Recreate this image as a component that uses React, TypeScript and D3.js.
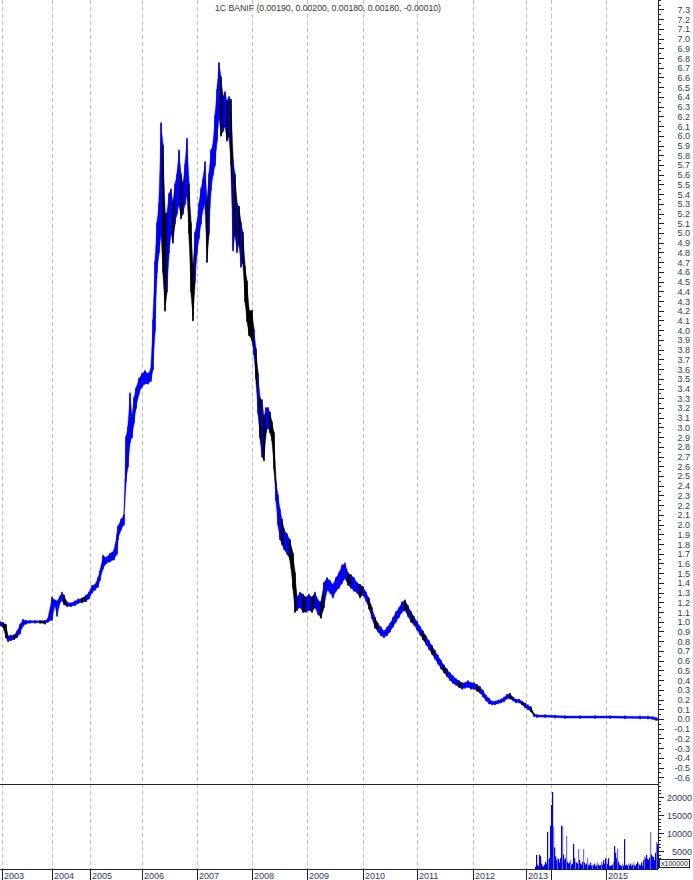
import React from "react";
import * as d3 from "d3";

const W = 693;
const H = 880;

const yearLabels = ["2003", "2004", "2005", "2006", "2007", "2008", "2009", "2010", "2011", "2012", "2013", "", "2015"];
const yearStart = [2, 52, 90, 142, 197, 252, 307, 363, 417, 473, 526, 551, 606];

const titleText = "1C BANIF (0.00190, 0.00200, 0.00180, 0.00180, -0.00010)";

// trading-period index, high, low, down flag (1 = black down bar)
const barIdx = [0, 3, 6, 8, 11, 14, 17, 20, 23, 26, 30, 35, 40, 45, 48,
  52, 55, 57, 60, 62, 64, 67, 71, 75, 78, 82, 86, 89,
  92, 95, 98, 100, 103, 106, 110, 114, 117, 118, 121, 124, 126, 128, 130, 132, 134, 136, 139,
  142, 145, 148, 151, 153,
  155, 157, 159, 161, 163, 165, 167, 169, 171, 173, 175, 177, 179, 181, 183, 185, 187, 189, 191, 193, 195,
  197, 199, 201, 203, 205, 207, 209, 211, 213, 215, 217, 219, 221, 223, 225, 227, 229, 231, 233, 235, 237, 239, 241, 243, 245, 247, 249,
  252, 254, 256, 258, 260, 262, 264, 266, 268, 270, 272, 274, 276, 278, 280, 282, 284, 287, 290, 293, 295, 297, 300, 303, 306,
  309, 312, 315, 318, 321, 324, 327, 330, 333, 336, 339, 342, 345, 348, 351, 354, 357, 360,
  363, 366, 369, 372, 375, 378, 381, 384, 387, 390, 393, 396, 399, 402, 405, 408, 411, 414,
  417, 420, 423, 426, 429, 432, 435, 438, 441, 444, 447, 450, 453, 456, 459, 462, 465, 468, 471,
  474, 477, 480, 483, 486, 489, 492, 495, 498, 501, 504, 507, 510, 513, 516, 519, 522,
  525, 528, 531, 534, 537, 545, 555, 565, 580, 595, 610, 625, 640, 648, 653, 656, 658];
const barHigh = [1.0, 0.99, 0.97, 0.85, 0.86, 0.86, 0.9, 0.97, 1.02, 1.01, 1.01, 1.01, 1.01, 1.01, 1.03,
  1.25, 1.22, 1.21, 1.26, 1.3, 1.27, 1.2, 1.19, 1.21, 1.23, 1.24, 1.27, 1.3,
  1.37, 1.38, 1.45, 1.52, 1.68, 1.66, 1.7, 1.73, 1.9, 1.98, 2.05, 2.1, 2.9, 3.0, 3.35, 3.1, 3.3, 3.4, 3.5,
  3.55, 3.58, 3.55, 3.6, 4.1,
  4.7, 5.1, 5.3, 6.13, 5.9, 5.2, 5.2, 5.4, 5.45, 5.3, 5.5, 5.6, 5.85, 5.6, 5.5, 5.7, 5.97, 5.5, 5.1, 4.6, 5.0,
  5.1, 5.3, 5.45, 5.55, 5.73, 5.3, 5.6, 5.85, 5.9, 6.2, 6.47, 6.75, 6.6, 6.4, 6.45, 6.35, 6.4, 6.37, 5.75, 5.6, 5.3, 5.27, 5.1, 5.0, 4.65, 4.5, 4.2,
  4.2, 4.0, 3.8, 3.55, 3.3, 3.28, 3.1, 3.2, 3.2, 3.15, 3.05, 2.94, 2.44, 2.3, 2.15, 2.05, 1.95, 1.9, 1.84, 1.7, 1.5, 1.25, 1.3, 1.28, 1.25,
  1.28, 1.25, 1.3, 1.22, 1.2, 1.4, 1.45, 1.42, 1.38, 1.45, 1.5, 1.58, 1.6, 1.5, 1.48, 1.45, 1.4, 1.38,
  1.36, 1.3, 1.24, 1.14, 1.04, 0.98, 0.94, 0.9, 0.94, 0.98, 1.04, 1.1, 1.14, 1.2, 1.22, 1.16, 1.1, 1.05,
  1.0, 0.95, 0.9, 0.85, 0.8, 0.75, 0.7, 0.65, 0.6, 0.55, 0.51, 0.47, 0.44, 0.41, 0.39, 0.37, 0.37, 0.39, 0.37,
  0.37, 0.35, 0.33, 0.29, 0.24, 0.21, 0.18, 0.18, 0.19, 0.2, 0.22, 0.25, 0.26, 0.22, 0.2, 0.2, 0.18,
  0.16, 0.14, 0.12, 0.05, 0.04, 0.04, 0.035, 0.03, 0.03, 0.03, 0.03, 0.028, 0.026, 0.025, 0.02, 0.01, 0.005];
const barLow = [0.96, 0.95, 0.84, 0.8, 0.81, 0.82, 0.84, 0.88, 0.96, 0.98, 0.99, 0.99, 0.99, 0.98, 1.0,
  1.02, 1.18, 1.06, 1.2, 1.22, 1.18, 1.16, 1.16, 1.17, 1.19, 1.2, 1.21, 1.24,
  1.3, 1.33, 1.36, 1.43, 1.55, 1.6, 1.62, 1.64, 1.7, 1.85, 1.95, 2.0, 2.45, 2.6, 2.85, 2.9, 3.05, 3.2, 3.35,
  3.42, 3.45, 3.45, 3.48, 3.6,
  4.0, 4.6, 4.8, 5.0, 4.6, 4.2, 4.4, 4.8, 5.0, 4.9, 5.1, 5.2, 5.3, 5.15, 5.2, 5.3, 5.4, 5.0, 4.4, 4.1, 4.5,
  4.8, 4.95, 5.1, 5.25, 5.3, 4.7, 5.0, 5.45, 5.6, 5.7, 5.95, 6.2, 6.0, 6.05, 6.1, 5.95, 6.0, 5.7, 4.82, 5.0, 4.8, 4.9, 4.65, 4.7, 4.3, 4.1, 3.95,
  3.9, 3.75, 3.5, 3.15, 2.9, 2.7, 2.66, 2.95, 3.0, 2.95, 2.87, 2.58, 2.25, 2.0, 1.85, 1.8, 1.75, 1.7, 1.64, 1.35, 1.1, 1.12, 1.15, 1.1, 1.1,
  1.12, 1.1, 1.15, 1.08, 1.04, 1.15, 1.33, 1.3, 1.25, 1.32, 1.35, 1.4, 1.45, 1.38, 1.35, 1.32, 1.3, 1.25,
  1.28, 1.22, 1.14, 1.04, 0.94, 0.9, 0.86, 0.84, 0.86, 0.9, 0.95, 1.0, 1.05, 1.1, 1.12, 1.06, 1.0, 0.97,
  0.92, 0.87, 0.82, 0.77, 0.72, 0.67, 0.62, 0.57, 0.52, 0.48, 0.44, 0.4, 0.37, 0.35, 0.33, 0.31, 0.32, 0.33, 0.31,
  0.31, 0.29, 0.27, 0.23, 0.19, 0.16, 0.15, 0.15, 0.16, 0.17, 0.18, 0.21, 0.21, 0.19, 0.17, 0.17, 0.15,
  0.12, 0.1, 0.08, 0.03, 0.03, 0.025, 0.03, 0.025, 0.025, 0.025, 0.025, 0.02, 0.02, 0.015, 0.01, 0.0, 0.0];
const barDown = [0, 1, 1, 0, 0, 1, 0, 0, 0, 0, 0, 0, 1, 0, 0,
  0, 0, 0, 0, 0, 1, 0, 0, 0, 0, 1, 0, 0,
  0, 0, 0, 0, 0, 0, 0, 0, 0, 0, 0, 0, 0, 0, 0, 0, 0, 0, 0,
  0, 0, 0, 0, 0,
  0, 0, 0, 0, 1, 1, 0, 0, 0, 1, 0, 0, 0, 1, 0, 0, 0, 1, 1, 1, 0,
  0, 0, 0, 0, 0, 1, 0, 0, 0, 0, 0, 0, 1, 0, 0, 1, 0, 1, 0, 1, 0, 1, 0, 1, 1, 1, 1,
  1, 0, 1, 0, 1, 0, 1, 0, 0, 1, 1, 1, 0, 0, 0, 1, 0, 0, 1, 1, 1, 0, 0, 1, 0,
  0, 1, 0, 0, 1, 0, 0, 0, 0, 0, 0, 0, 0, 1, 0, 0, 0, 1,
  0, 0, 1, 0, 1, 0, 0, 0, 0, 0, 0, 0, 0, 0, 1, 0, 1, 0,
  0, 0, 1, 0, 0, 1, 0, 0, 0, 1, 0, 0, 0, 0, 1, 0, 0, 0, 0,
  0, 1, 0, 0, 0, 0, 0, 0, 0, 0, 0, 0, 1, 0, 0, 0, 1,
  0, 0, 1, 0, 0, 0, 0, 0, 0, 0, 0, 0, 0, 0, 0, 0, 0];

// volume (units of the x100000 scale label), one per period from volStart
const volStart = 535;
const volume = [600, 3900, 1200, 800, 4000, 3500, 1500, 900, 700, 1200, 2000, 1500, 10300, 2500, 3000, 12000, 17800, 21400, 11700, 6000,
  3500, 2500, 3000, 2800, 1800, 3000, 12000, 11800, 4000, 2500, 3000, 9200, 2000, 1500, 1800, 2500, 1200, 1500, 7000, 3000,
  2000, 1800, 1500, 5500, 2500, 1500, 1200, 2000, 5500, 1800, 1200, 1500, 3000, 1000, 1200, 1800, 900, 1200, 1000, 1500,
  800, 1000, 1800, 1200, 900, 1100, 2000, 1200, 2500, 1500, 3000, 2800, 1500, 3000, 900, 800, 1000, 1200, 2000, 6400,
  4500, 3000, 5700, 2000, 1200, 1000, 800, 1500, 900, 8300, 1000, 1200, 900, 1500, 1000, 1500, 800, 1200, 1800, 1000,
  900, 1400, 2000, 1500, 1200, 1000, 1800, 900, 2500, 3500, 3000, 3900, 2800, 2500, 3200, 10300, 4000, 3500, 3300, 2500,
  4500, 7500, 7000];
const volLight = [548, 553, 557, 562, 566, 570, 575, 578, 583, 587, 592, 597, 601, 606, 613, 617, 622, 628, 633, 638, 644, 650, 656];

const priceTicks = d3.range(-6, 74).map((d) => d / 10);
const priceMinor = d3.range(-13, 149).map((d) => d / 20);
const volTicks = [5000, 10000, 15000, 20000];
const volMinor = d3.range(1000, 24000, 1000);

const PLOT_R = 658;
const DIV_Y = 784;
const BOT_Y = 869;
const FONT = "'Liberation Sans', Arial, sans-serif";
const LABEL_COLOR = "#2d3a66";

export default function App() {
  const x = d3.scaleLinear().domain([0, 658]).range([0, PLOT_R]);
  const y = d3.scaleLinear().domain([-0.669, 7.397]).range([DIV_Y, 0]);
  const yv = d3.scaleLinear().domain([0, 20000]).range([BOT_Y, 797]);

  const pts = barIdx.map((idx, i) => {
    const hi = y(barHigh[i]);
    const lo = Math.max(y(barLow[i]), hi + 2);
    return { x: x(idx), hi, lo };
  });
  const area = d3
    .area<{ x: number; hi: number; lo: number }>()
    .x((d) => d.x)
    .y0((d) => d.lo)
    .y1((d) => d.hi);

  const segs = pts.slice(0, -1).map((p, i) => {
    const q = pts[i + 1];
    return {
      d: area([{ ...p, x: p.x - 0.3 }, { ...q, x: q.x + 0.3 }]) || "",
      down: barDown[i] === 1,
    };
  });

  const ticks = pts.map((p, i) => ({ x: p.x, hi: p.hi - 0.8, lo: p.lo + 0.8, down: barDown[i] === 1 }));

  const vols = volume.map((v, i) => {
    const idx = volStart + i;
    return { x: x(idx), y: yv(v), h: BOT_Y - yv(v), light: volLight.includes(idx) };
  });

  return (
    <svg width={W} height={H} style={{ display: "block", position: "absolute", left: 0, top: 0, background: "#fff" }}>
      <rect x={0} y={0} width={W} height={H} fill="#fff" />
      {yearStart.map((ys, i) => (
        <line key={"g" + i} x1={x(ys) + 0.5} x2={x(ys) + 0.5} y1={0} y2={BOT_Y} stroke="#bdbdbd" strokeWidth={1} strokeDasharray="4,3" />
      ))}
      <text x={215} y={11} fontFamily={FONT} fontSize={8.8} fill="#333" textLength={226} lengthAdjust="spacingAndGlyphs">{titleText}</text>
      <g>
        {segs.filter((s) => !s.down).map((s, i) => (
          <path key={"u" + i} d={s.d} fill="#0000ff" stroke="#0000ff" strokeWidth={0.4} />
        ))}
        {segs.filter((s) => s.down).map((s, i) => (
          <path key={"k" + i} d={s.d} fill="#000" stroke="#000" strokeWidth={0.4} />
        ))}
        {ticks.slice(0, -1).map((t, i) => (
          <rect key={"t" + i} x={t.x - 0.6} y={t.hi} width={1.2} height={t.lo - t.hi} fill={t.down ? "#000" : "#0000ff"} />
        ))}
      </g>
      <g>
        {vols.map((v, i) => (
          <rect key={"v" + i} x={v.x} y={v.y} width={1.2} height={v.h} fill={v.light ? "#7070ff" : "#0000ff"} />
        ))}
      </g>
      <line x1={0} x2={PLOT_R} y1={DIV_Y + 0.5} y2={DIV_Y + 0.5} stroke="#222" strokeWidth={1} />
      <line x1={0} x2={PLOT_R} y1={BOT_Y + 0.5} y2={BOT_Y + 0.5} stroke="#222" strokeWidth={1} />
      <line x1={PLOT_R + 0.5} x2={PLOT_R + 0.5} y1={0} y2={BOT_Y} stroke="#222" strokeWidth={1} />
      {priceMinor.map((v, i) => (
        <line key={"pm" + i} x1={PLOT_R} x2={PLOT_R + 3} y1={Math.round(y(v)) + 0.5} y2={Math.round(y(v)) + 0.5} stroke="#222" />
      ))}
      {priceTicks.map((v, i) => (
        <g key={"pt" + i}>
          <line x1={PLOT_R} x2={PLOT_R + 6} y1={Math.round(y(v)) + 0.5} y2={Math.round(y(v)) + 0.5} stroke="#222" />
          <text x={690} y={y(v) + 3.5} textAnchor="end" fontFamily={FONT} fontSize={9} fill={LABEL_COLOR}>
            {v.toFixed(1)}
          </text>
        </g>
      ))}
      {volMinor.map((v, i) => (
        <line key={"vm" + i} x1={PLOT_R} x2={PLOT_R + 3} y1={Math.round(yv(v)) + 0.5} y2={Math.round(yv(v)) + 0.5} stroke="#222" />
      ))}
      {volTicks.map((v, i) => (
        <g key={"vt" + i}>
          <line x1={PLOT_R} x2={PLOT_R + 6} y1={Math.round(yv(v)) + 0.5} y2={Math.round(yv(v)) + 0.5} stroke="#222" />
          <text x={692} y={yv(v) + 3.5} textAnchor="end" fontFamily={FONT} fontSize={9} fill={LABEL_COLOR}>
            {v}
          </text>
        </g>
      ))}
      <rect x={659.5} y={859.5} width={30} height={8} fill="#fff" stroke="#222" strokeWidth={1} />
      <text x={661} y={866} fontFamily={FONT} fontSize={7} fill="#222">x100000</text>
      {yearStart.map((ys, i) => (
        <g key={"yl" + i}>
          <line x1={x(ys) + 0.5} x2={x(ys) + 0.5} y1={BOT_Y} y2={H} stroke="#222" strokeWidth={1} />
          {yearLabels[i] && (
            <text x={x(ys) + 2} y={879} fontFamily={FONT} fontSize={9} fill={LABEL_COLOR}>
              {yearLabels[i]}
            </text>
          )}
        </g>
      ))}
    </svg>
  );
}
